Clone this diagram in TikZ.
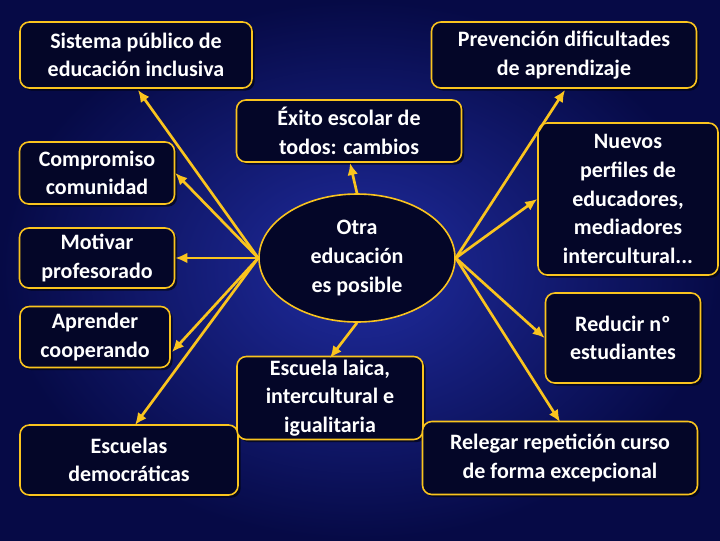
\documentclass[tikz,border=0pt]{standalone}
\usepackage{fontspec}
\setmainfont{Carlito}
\usetikzlibrary{shadows,shapes.geometric,arrows.meta}
\definecolor{bgin}{RGB}{32,44,160}
\definecolor{bgout}{RGB}{6,10,70}
\definecolor{boxf}{RGB}{4,6,40}
\definecolor{gold}{RGB}{250,196,30}
\tikzset{
  fnt/.style={font=\fontsize{16.5}{21.5}\selectfont\bfseries},
  bx/.style={draw=gold, line width=1.2pt, fill=boxf, rounded corners=7pt, text=white, align=center, inner sep=1pt, fnt, drop shadow={shadow xshift=2pt, shadow yshift=-2pt, fill=black, opacity=.6}},
  ar/.style={draw=gold, line width=2pt, -{Latex[length=9pt,width=8pt]}}
}
\begin{document}
\begin{tikzpicture}[x=0.75pt,y=-0.75pt]
\useasboundingbox (0,0) rectangle (720,540);
\shade[inner color=bgin, outer color=bgout] (0,0) rectangle (720,540);
\node[bx, minimum width=232*0.75pt, minimum height=66*0.75pt] (sis) at (136,55) {Sistema público de\\educación inclusiva};
\node[bx, minimum width=265*0.75pt, minimum height=66*0.75pt] (pre) at (564,55) {Prevención dificultades\\de aprendizaje};
\node[bx, minimum width=225*0.75pt, minimum height=62*0.75pt] (exi) at (349,131) {Éxito escolar de\\todos: cambios};
\node[bx, minimum width=155*0.75pt, minimum height=62*0.75pt] (com) at (97,173) {Compromiso\\comunidad};
\node[bx, minimum width=155*0.75pt, minimum height=60*0.75pt] (mot) at (97,258) {Motivar\\profesorado};
\node[bx, minimum width=150*0.75pt, minimum height=61*0.75pt] (apr) at (95,337) {Aprender\\cooperando};
\node[bx, minimum width=218*0.75pt, minimum height=70*0.75pt] (esd) at (129,460) {Escuelas\\democráticas};
\node[bx, minimum width=180*0.75pt, minimum height=152*0.75pt] (nue) at (628,199) {Nuevos\\perfiles de\\educadores,\\mediadores\\intercultural...};
\node[bx, minimum width=155*0.75pt, minimum height=90*0.75pt] (red) at (623,338) {Reducir nº\\estudiantes};
\node[bx, minimum width=186*0.75pt, minimum height=83*0.75pt] (lai) at (330,398) {Escuela laica,\\intercultural e\\igualitaria};
\node[bx, minimum width=275*0.75pt, minimum height=73*0.75pt] (rel) at (560,458) {Relegar repetición curso\\de forma excepcional};
\node[draw=gold, line width=1.2pt, fill=boxf, ellipse, minimum width=196*0.75pt, minimum height=128*0.75pt, inner sep=0pt, text=white, align=center, fnt] (otr) at (357,258) {Otra\\educación\\es posible};
\coordinate (L) at (otr.west);
\coordinate (R) at (otr.east);
\draw[ar] (L) -- (138,90);
\draw[ar] (L) -- (com.east);
\draw[ar] (L) -- (mot.east);
\draw[ar] (L) -- (172,352);
\draw[ar] (L) -- (135,425);
\draw[ar] (otr.north) -- (350,163);
\draw[ar] (otr.south) -- (330,358);
\draw[ar] (R) -- (565,90);
\draw[ar] (R) -- (nue.west);
\draw[ar] (R) -- (red.west);
\draw[ar] (R) -- (560,422);
\end{tikzpicture}
\end{document}
